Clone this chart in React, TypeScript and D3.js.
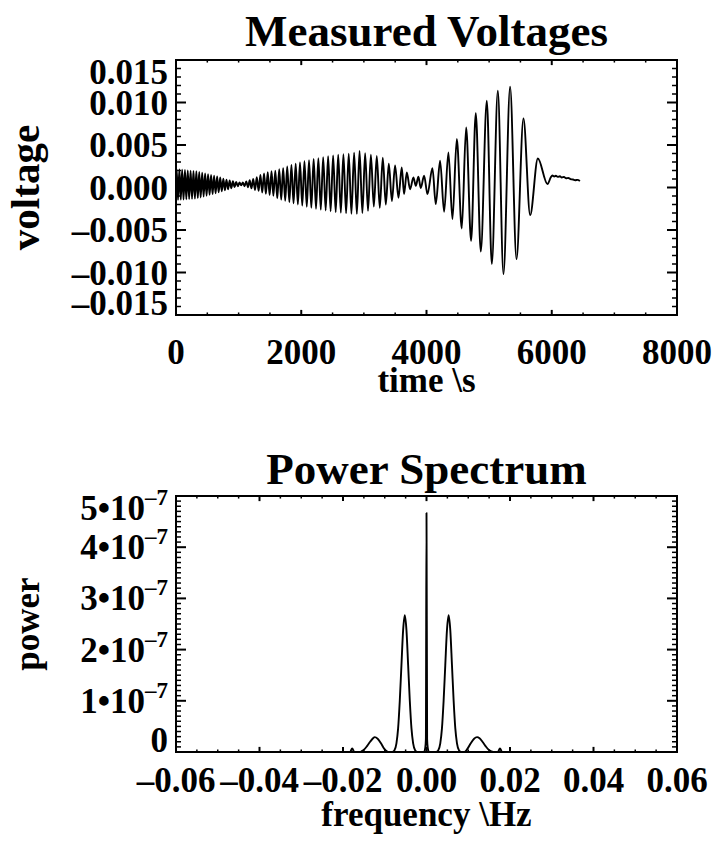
import React from 'react';
import * as d3 from 'd3';

// ---------- data ----------
const timeTicks = [0, 2000, 4000, 6000, 8000];
const timeTickLabels = ['0', '2000', '4000', '6000', '8000'];
const voltTicks = [-0.015, -0.01, -0.005, 0, 0.005, 0.01, 0.015];
const voltTickLabels = ['–0.015', '–0.010', '–0.005', '0.000', '0.005', '0.010', '0.015'];
const freqTicks = [-0.06, -0.04, -0.02, 0, 0.02, 0.04, 0.06];
const freqTickLabels = ['–0.06', '–0.04', '–0.02', '0.00', '0.02', '0.04', '0.06'];
const powerTicks = [0, 1e-7, 2e-7, 3e-7, 4e-7, 5e-7];
const powerTickMantissas = ['0', '1', '2', '3', '4', '5'];

// extrema of the measured voltage trace: [time s, voltage]
const voltageExtrema: [number, number][] = [
  [0, 0.001],
  [10, 0.00215], [32, -0.00145], [54, 0.00212], [76, -0.00143], [98, 0.00209], [120, -0.00141],
  [143, 0.00205], [165, -0.00139], [188, 0.00202], [210, -0.00136], [233, 0.00199], [256, -0.00134],
  [279, 0.00196], [302, -0.00131], [325, 0.00192], [348, -0.00125], [371, 0.00184], [394, -0.00117],
  [418, 0.00175], [441, -0.00107], [465, 0.00166], [488, -0.00097], [512, 0.00157], [536, -0.00087],
  [560, 0.00147], [584, -0.00077], [608, 0.00139], [632, -0.00067], [657, 0.00129], [681, -0.00057],
  [706, 0.00117], [731, -0.00045], [756, 0.00105], [781, -0.00033], [806, 0.00093], [831, -0.0002],
  [857, 0.00083], [883, -0.00008], [909, 0.00074], [935, 0.00004], [961, 0.00066], [987, 0.00015],
  [1014, 0.00059], [1041, 0.00025], [1068, 0.00058], [1095, 0.00015], [1122, 0.00072], [1150, 0.00003],
  [1177, 0.00086], [1205, -0.0001], [1233, 0.00101], [1261, -0.0003], [1290, 0.00122], [1319, -0.0004],
  [1348, 0.00149], [1377, -0.0006], [1406, 0.00165], [1435, -0.00075], [1465, 0.0018], [1495, -0.00088],
  [1525, 0.00191], [1555, -0.00098], [1586, 0.00199], [1617, -0.00128], [1648, 0.00214], [1680, -0.00142],
  [1711, 0.00228], [1744, -0.00156], [1776, 0.00249], [1810, -0.00172], [1843, 0.00266], [1877, -0.00186],
  [1911, 0.00281], [1946, -0.002], [1980, 0.00295], [2016, -0.00213], [2051, 0.00308], [2088, -0.00226],
  [2124, 0.00322], [2161, -0.00238], [2198, 0.00335], [2236, -0.0025], [2273, 0.00346], [2312, -0.0026],
  [2350, 0.00357], [2390, -0.0027], [2429, 0.00368], [2469, -0.0028], [2509, 0.00378], [2550, -0.0029],
  [2590, 0.00385], [2632, -0.00296], [2673, 0.00391], [2716, -0.00302], [2758, 0.00397], [2801, -0.00308],
  [2844, 0.0041], [2888, -0.0031], [2931, 0.0043], [2976, -0.003], [3020, 0.00405], [3066, -0.00275],
  [3112, 0.00385], [3159, -0.00225], [3206, 0.0037], [3254, -0.0024], [3302, 0.0035], [3350, -0.002],
  [3398, 0.0028], [3448, -0.0016], [3498, 0.0026], [3552, -0.0012], [3605, 0.00235], [3642, -0.00078],
  [3685, 0.00177], [3738, -0.0002], [3791, 0.00118], [3829, 0.0002], [3871, 0.00126], [3908, -0.00007],
  [3962, 0.00138], [4015, -0.00078], [4095, 0.00228], [4148, -0.00196], [4217, 0.00314], [4281, -0.00286],
  [4350, 0.00412], [4414, -0.00372], [4484, 0.0057], [4563, -0.00482], [4633, 0.00706], [4712, -0.00627],
  [4787, 0.00875], [4867, -0.00753], [4963, 0.0102], [5043, -0.00901], [5139, 0.01138], [5229, -0.01019],
  [5335, 0.01185], [5437, -0.00843], [5548, 0.00812], [5655, -0.00325], [5778, 0.00341], [5932, 0.0004],
  [5985, 0.0012], [6010, 0.00142], [6040, 0.0013], [6065, 0.00138], [6095, 0.00125], [6130, 0.00133],
  [6160, 0.00118], [6195, 0.00124], [6230, 0.00108], [6265, 0.00112], [6300, 0.00098], [6340, 0.00094],
  [6375, 0.00086], [6410, 0.0009], [6450, 0.00076],
];

// power spectrum: [frequency Hz, power]
const spectrumPoints: [number, number][] = [
  [-0.06, 0], [-0.0183, 0], [-0.0178, 0.07e-7], [-0.0173, 0], [-0.016, 0], [-0.0156, 0.01e-7],
  [-0.0149, 0.05e-7], [-0.0142, 0.12e-7], [-0.0135, 0.2e-7], [-0.0128, 0.27e-7], [-0.0124, 0.29e-7],
  [-0.0117, 0.26e-7], [-0.0109, 0.17e-7], [-0.0101, 0.06e-7], [-0.0094, 0.01e-7], [-0.009, 0],
  [-0.0082, 0], [-0.0077, 0.03e-7], [-0.0072, 0.17e-7], [-0.0068, 0.46e-7], [-0.0064, 1.0e-7],
  [-0.006, 1.7e-7], [-0.0056, 2.38e-7], [-0.0052, 2.67e-7], [-0.0048, 2.38e-7], [-0.0044, 1.7e-7],
  [-0.004, 1.0e-7], [-0.0036, 0.46e-7], [-0.0032, 0.17e-7], [-0.0027, 0.03e-7], [-0.0022, 0],
  [-0.0006, 0], [-0.0003, 0.08e-7], [-0.00015, 0.25e-7], [0, 4.67e-7], [0.00015, 0.25e-7],
  [0.0003, 0.08e-7], [0.0006, 0], [0.0023, 0], [0.0028, 0.03e-7], [0.0033, 0.17e-7], [0.0037, 0.46e-7],
  [0.0041, 1.0e-7], [0.0045, 1.7e-7], [0.0049, 2.38e-7], [0.0053, 2.67e-7], [0.0057, 2.38e-7],
  [0.0061, 1.7e-7], [0.0065, 1.0e-7], [0.0069, 0.46e-7], [0.0073, 0.17e-7], [0.0078, 0.03e-7],
  [0.0083, 0], [0.0091, 0], [0.0098, 0.06e-7], [0.0106, 0.17e-7], [0.0114, 0.26e-7], [0.0121, 0.29e-7],
  [0.0127, 0.27e-7], [0.0134, 0.2e-7], [0.0141, 0.12e-7], [0.0148, 0.05e-7], [0.0155, 0.01e-7],
  [0.016, 0], [0.0171, 0], [0.0176, 0.07e-7], [0.0181, 0], [0.06, 0],
];

// ---------- layout ----------
const FONT = '"Liberation Serif", "Times New Roman", serif';
const LABEL_SIZE = 35;
const TITLE_SIZE = 45;
const LEFT = 176;
const RIGHT = 677;

type PanelProps = {
  id: string;
  top: number;
  bottom: number;
  x: d3.ScaleLinear<number, number>;
  y: d3.ScaleLinear<number, number>;
  xMajor: number[];
  xMinor: number[];
  yMajor: number[];
  yMinor: number[];
  xLabels: React.ReactNode[];
  yLabels: React.ReactNode[];
  xLabelBaseline: number;
  title: string;
  titleBaseline: number;
  xTitle: string;
  xTitleBaseline: number;
  yTitle: string;
  yTitleSize: number;
  path: string;
};

function Panel(p: PanelProps) {
  const w = RIGHT - LEFT;
  const h = p.bottom - p.top;
  const yMajLen = 0.02 * w;
  const xMajLen = 0.02 * h;
  const cx = (LEFT + RIGHT) / 2;
  const cy = (p.top + p.bottom) / 2;
  return (
    <g>
      <defs>
        <clipPath id={p.id}>
          <rect x={LEFT} y={p.top} width={w} height={h} />
        </clipPath>
      </defs>
      <path d={p.path} fill="none" stroke="#000" strokeWidth={1.9} strokeLinejoin="round" clipPath={`url(#${p.id})`} />
      <rect x={LEFT} y={p.top} width={w} height={h} fill="none" stroke="#000" strokeWidth={2} />
      {p.xMajor.map((v, i) => (
        <g key={'xM' + i}>
          <line x1={p.x(v)} x2={p.x(v)} y1={p.bottom} y2={p.bottom - xMajLen} stroke="#000" strokeWidth={2} />
          <line x1={p.x(v)} x2={p.x(v)} y1={p.top} y2={p.top + xMajLen} stroke="#000" strokeWidth={2} />
        </g>
      ))}
      {p.xMinor.map((v, i) => (
        <g key={'xm' + i}>
          <line x1={p.x(v)} x2={p.x(v)} y1={p.bottom} y2={p.bottom - xMajLen / 2} stroke="#000" strokeWidth={1.5} />
          <line x1={p.x(v)} x2={p.x(v)} y1={p.top} y2={p.top + xMajLen / 2} stroke="#000" strokeWidth={1.5} />
        </g>
      ))}
      {p.yMajor.map((v, i) => (
        <g key={'yM' + i}>
          <line x1={LEFT} x2={LEFT + yMajLen} y1={p.y(v)} y2={p.y(v)} stroke="#000" strokeWidth={2} />
          <line x1={RIGHT} x2={RIGHT - yMajLen} y1={p.y(v)} y2={p.y(v)} stroke="#000" strokeWidth={2} />
        </g>
      ))}
      {p.yMinor.map((v, i) => (
        <g key={'ym' + i}>
          <line x1={LEFT} x2={LEFT + yMajLen / 2} y1={p.y(v)} y2={p.y(v)} stroke="#000" strokeWidth={1.5} />
          <line x1={RIGHT} x2={RIGHT - yMajLen / 2} y1={p.y(v)} y2={p.y(v)} stroke="#000" strokeWidth={1.5} />
        </g>
      ))}
      <g fontFamily={FONT} fontWeight="bold" fontSize={LABEL_SIZE} fill="#000">
        {p.xMajor.map((v, i) => (
          <text key={'xl' + i} x={p.x(v)} y={p.xLabelBaseline} textAnchor="middle">{p.xLabels[i]}</text>
        ))}
        {p.yMajor.map((v, i) => {
          const c = Math.min(Math.max(p.y(v), p.top + 12), p.bottom - 12);
          return (
            <text key={'yl' + i} x={LEFT - 8} y={c + 12} textAnchor="end">{p.yLabels[i]}</text>
          );
        })}
        <text x={cx} y={p.xTitleBaseline} textAnchor="middle">{p.xTitle}</text>
        <text x={39} y={cy} textAnchor="middle" fontSize={p.yTitleSize} transform={`rotate(-90 39 ${cy})`}>{p.yTitle}</text>
        <text x={cx} y={p.titleBaseline} textAnchor="middle" fontSize={TITLE_SIZE}>{p.title}</text>
      </g>
    </g>
  );
}

export default function App() {
  // top panel scales
  const xT = d3.scaleLinear().domain([0, 8000]).range([LEFT, RIGHT]);
  const yT = d3.scaleLinear().domain([-0.015, 0.015]).range([315, 60]);
  const voltLine = d3
    .line<[number, number]>()
    .x((d) => xT(d[0]))
    .y((d) => yT(d[1]))
    .curve(d3.curveMonotoneX);

  // bottom panel scales
  const xB = d3.scaleLinear().domain([-0.06, 0.06]).range([LEFT, RIGHT]);
  const yB = d3.scaleLinear().domain([0, 5e-7]).range([752, 496]);
  const specLine = d3
    .line<[number, number]>()
    .x((d) => xB(d[0]))
    .y((d) => yB(d[1]))
    .curve(d3.curveMonotoneX);

  const timeMinor = d3.range(0, 8001, 500).filter((v) => v % 2000 !== 0);
  const voltMinor = d3.range(-15, 16, 1).filter((v) => v % 5 !== 0).map((v) => v / 1000);
  const freqMinor = d3.range(-60, 61, 5).filter((v) => v % 20 !== 0).map((v) => v / 1000);
  const powerMinor = d3.range(0, 51, 1).filter((v) => v % 10 !== 0).map((v) => v * 1e-8);

  const powerLabels = powerTickMantissas.map((m, i) =>
    i === 0 ? (
      '0'
    ) : (
      <>
        {m}•10<tspan dy={-15} fontSize={23}>–7</tspan>
      </>
    )
  );

  return (
    <svg width={716} height={842} style={{ position: 'absolute', left: 0, top: 0, background: '#fff' }}>
      <rect x={0} y={0} width={716} height={842} fill="#fff" />
      <Panel
        id="clipTop"
        top={60}
        bottom={315}
        x={xT}
        y={yT}
        xMajor={timeTicks}
        xMinor={timeMinor}
        yMajor={voltTicks}
        yMinor={voltMinor}
        xLabels={timeTickLabels}
        yLabels={voltTickLabels}
        xLabelBaseline={364}
        title="Measured Voltages"
        titleBaseline={46}
        xTitle="time \s"
        xTitleBaseline={392}
        yTitle="voltage"
        yTitleSize={41}
        path={voltLine(voltageExtrema) || ''}
      />
      <Panel
        id="clipBottom"
        top={496}
        bottom={752}
        x={xB}
        y={yB}
        xMajor={freqTicks}
        xMinor={freqMinor}
        yMajor={powerTicks}
        yMinor={powerMinor}
        xLabels={freqTickLabels}
        yLabels={powerLabels}
        xLabelBaseline={792}
        title="Power Spectrum"
        titleBaseline={484}
        xTitle="frequency \Hz"
        xTitleBaseline={826}
        yTitle="power"
        yTitleSize={35}
        path={specLine(spectrumPoints) || ''}
      />
    </svg>
  );
}
